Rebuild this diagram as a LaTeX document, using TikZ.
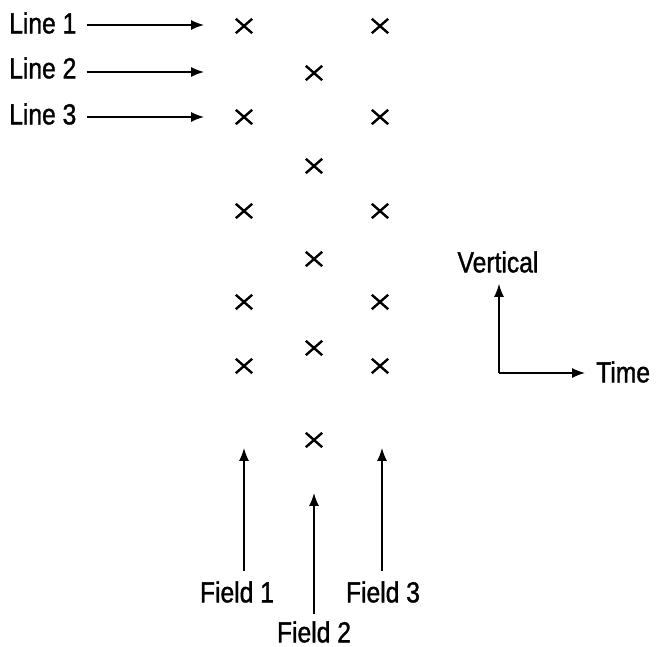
\documentclass[tikz,border=0pt]{standalone}
\usepackage{fontspec}
\setmainfont[FakeStretch=0.85,FakeBold=1.2]{Liberation Sans}
\usetikzlibrary{arrows.meta,shapes.misc}

\begin{document}
\begin{tikzpicture}
    [x=1pt, y=-1pt, font=\fontsize{29}{34}\selectfont,
     arr/.style={-{Latex[length=13pt,width=10pt]}, line width=1.4pt},
     sample/.style={cross out, draw, minimum width=14pt, minimum height=12pt, inner sep=0pt, line width=2.4pt}]
    \useasboundingbox (0,0) rectangle (657,647);
    % lines
    \node[anchor=west, inner sep=0pt] (l1) at (9,23) {Line 1};
    \node[anchor=west, inner sep=0pt] (l2) at (9,68) {Line 2};
    \node[anchor=west, inner sep=0pt] (l3) at (9,114) {Line 3};
    \coordinate (t1) at (204,25);
    \coordinate (t2) at (204,72);
    \coordinate (t3) at (204,117);
    \draw[arr] ([xshift=10pt]l1.east |- t1) -- (t1);
    \draw[arr] ([xshift=10pt]l2.east |- t2) -- (t2);
    \draw[arr] ([xshift=10pt]l3.east |- t3) -- (t3);
    % samples
    \foreach \y [count=\i] in {26,117,211,302,366} {
      \node[sample] (a\i) at (244,\y) {};
      \node[sample] (c\i) at (380,\y) {};
    }
    \foreach \y [count=\i] in {73,166,259,348,440}
      \node[sample] (b\i) at (314,\y) {};
    % fields
    \node[inner sep=1pt] (f1) at (237,592) {Field 1};
    \node[inner sep=1pt] (f2) at (314,632) {Field 2};
    \node[inner sep=1pt] (f3) at (383,592) {Field 3};
    \coordinate (u1) at (244,448);
    \coordinate (u2) at (314,493);
    \coordinate (u3) at (382,448);
    \draw[arr] (u1 |- f1.north) ++(0,-9) -- (u1);
    \draw[arr] (f2.north) ++(0,-6) -- (u2);
    \draw[arr] (u3 |- f3.north) ++(0,-9) -- (u3);
    % axes
    \coordinate (o) at (499,373);
    \node[inner sep=1pt] (v) at (498,262) {Vertical};
    \node[anchor=west, inner sep=1pt] (tm) at (595,372) {Time};
    \draw[arr] (o) -- ([yshift=-10pt]v.south -| o);
    \draw[arr] (o) -- ([xshift=-10pt]tm.west |- o);
\end{tikzpicture}
\end{document}
